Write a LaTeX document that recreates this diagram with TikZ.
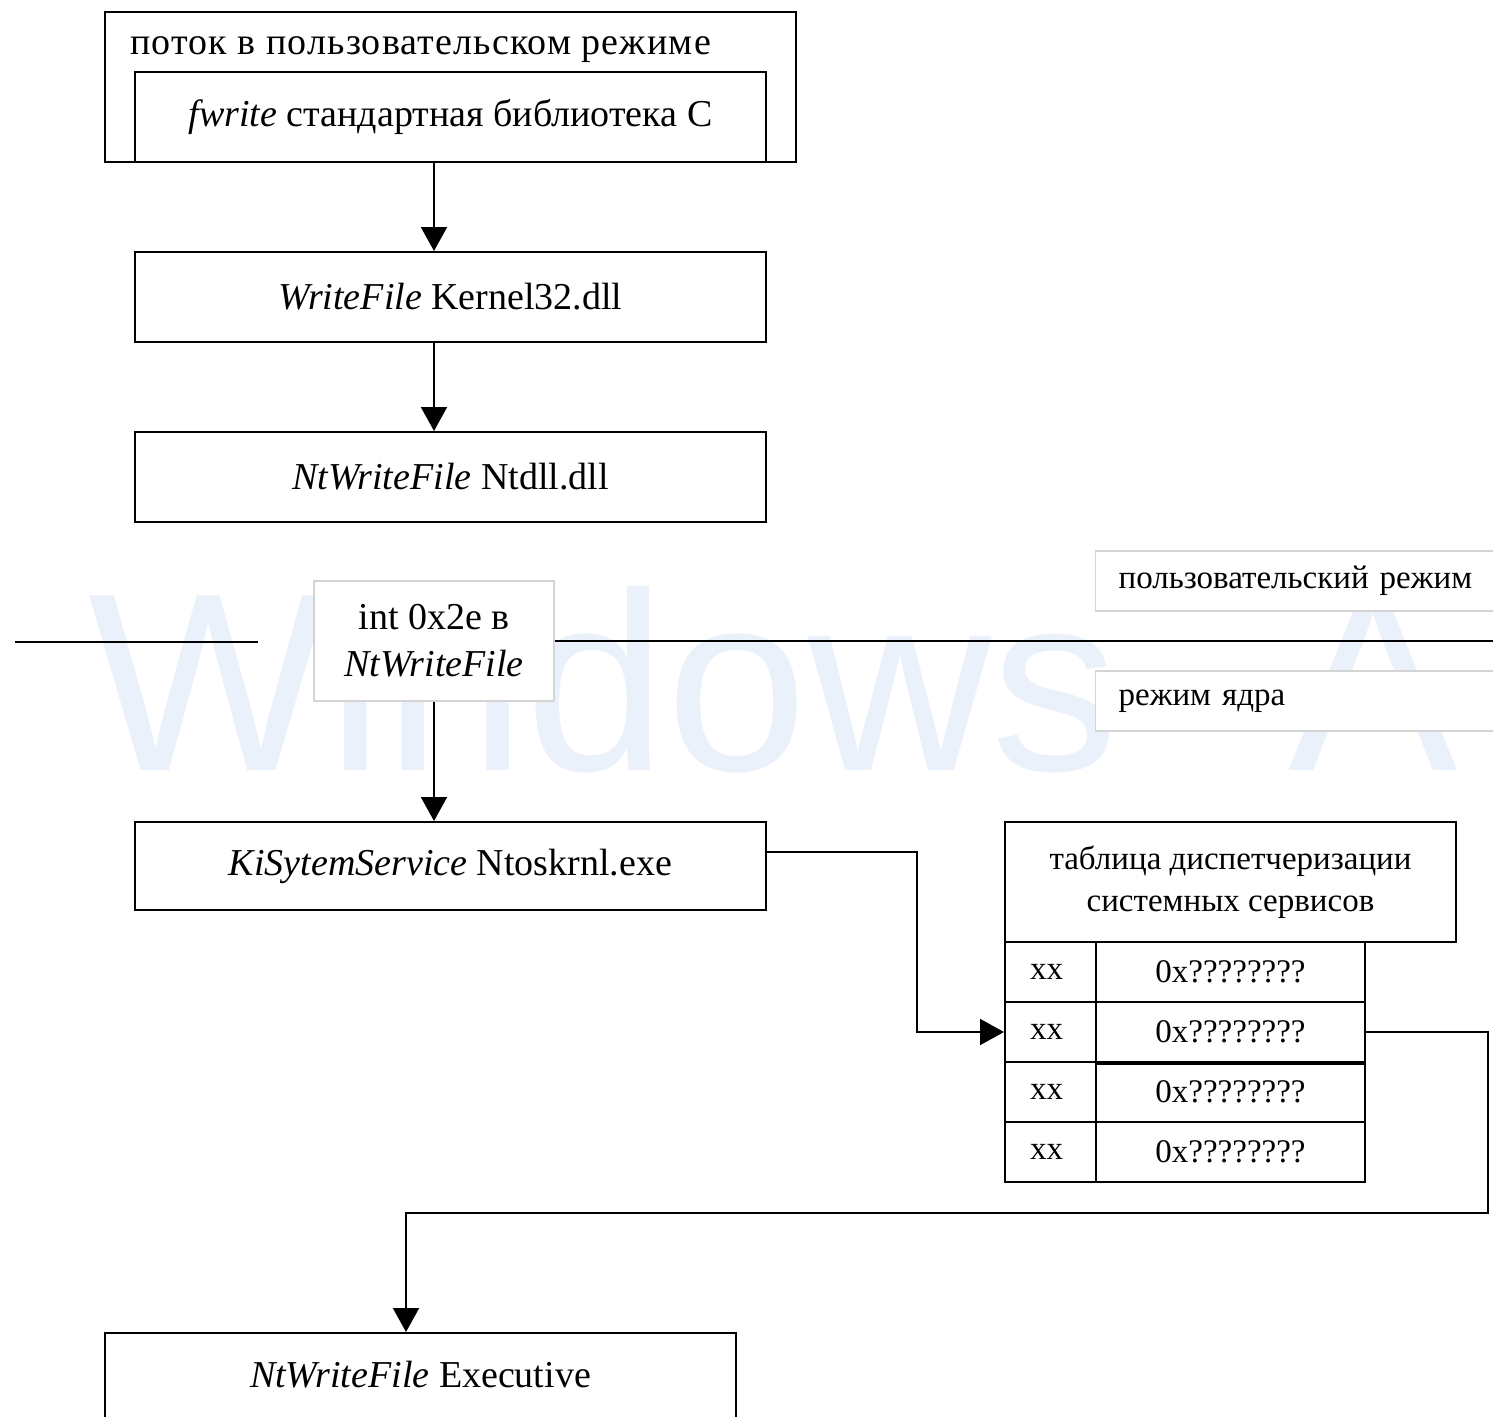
\documentclass[tikz,border=0pt]{standalone}
\usepackage{fontspec}
\setmainfont{Liberation Serif}
\newfontfamily\wmfont{Liberation Sans}
\usetikzlibrary{arrows.meta}
\definecolor{wmcol}{RGB}{234,241,251}
\definecolor{lboxcol}{RGB}{212,212,212}
\newcommand\fbig{\fontsize{38}{47}\selectfont}
\newcommand\fsmall{\fontsize{33}{42}\selectfont}
\tikzset{
  box/.style={draw, line width=2pt, fill=white, minimum width=631pt, minimum height=90pt, inner sep=0pt, font=\fbig},
  lbox/.style={draw=lboxcol, line width=1.2pt, fill=white, inner sep=0pt, font=\fbig},
  lblbox/.style={draw=lboxcol, line width=1.2pt, fill=white, minimum height=60pt, text width=360pt, inner xsep=23pt, inner ysep=0pt, align=left, font=\fsmall},
  cell/.style={draw, line width=2pt, fill=white, inner sep=0pt, font=\fsmall},
  conn/.style={line width=2pt},
  sep/.style={line width=2.5pt},
  arr/.style={line width=2pt, -{Triangle[width=26pt,length=24pt]}},
  wmark/.style={anchor=base west, inner sep=0pt, text=wmcol, font=\wmfont\fontsize{254}{254}\selectfont}
}
\begin{document}
\begin{tikzpicture}[x=1pt,y=-1pt]
\fill[white] (0,0) rectangle (1493,1416);
\useasboundingbox (0,0) rectangle (1493,1416);
% watermark
\node[wmark] (wm) at (88,770) {Windows\hspace{170pt}A};
% user mode thread
\node[box, minimum width=691pt, minimum height=150pt] (thread) at (450.5,87) {};
\node[anchor=west, font=\fbig, inner sep=0pt] (threadlbl) at (130,50) {\addfontfeature{LetterSpace=3}поток в пользовательском режиме};
\node[box] (fwrite) at (450.5,117) {\raisebox{5pt}{\textit{fwrite} стандартная библиотека C}};
\node[box] (wf) at (450.5,297) {\textit{WriteFile} Kernel32.dll};
\node[box] (nwf) at (450.5,477) {\textit{NtWriteFile} Ntdll.dll};
% mode boundary
\node[lbox, minimum width=240pt, minimum height=120pt, align=center] (int) at (434,641) {int 0x2e в\\\textit{NtWriteFile}};
\coordinate (l1) at (15,642);
\coordinate (l2) at (258,642);
\coordinate (l3) at (1493,642);
\draw[sep] (l1) -- (l2);
\draw[sep] (int.east) -- (int.east -| l3);
\node[lblbox, anchor=west] (umode) at (1095,581) {пользовательский режим};
\node[lblbox, anchor=west] (kmode) at (1095,701) {режим ядра};
% kernel
\node[box, minimum height=88pt] (ki) at (450.5,866) {\raisebox{3pt}{\textit{KiSytemService} Ntoskrnl.exe}};
\node[box, minimum height=86pt] (exec) at (420.5,1376) {\raisebox{4pt}{\textit{NtWriteFile} Executive}};
% table
\node[cell, minimum width=451pt, minimum height=120pt, align=center] (th) at (1230.5,882) {таблица диспетчеризации\\системных сервисов};
\foreach \i/\y in {1/972,2/1032,3/1092,4/1152}{
  \node[cell, minimum width=91pt, minimum height=60pt, text width=41pt, inner xsep=25pt, align=left] (r\i a) at (1050.5,\y) {xx};
  \node[cell, minimum width=269pt, minimum height=60pt] (r\i b) at (1230.5,\y) {0x????????};
}
\draw[line width=4pt] (r2b.south west) -- (r2b.south east);
% arrows
\draw[arr] (fwrite.south -| int.south) -- (wf.north -| int.south);
\draw[arr] (wf.south -| int.south) -- (nwf.north -| int.south);
\draw[arr] (int.south) -- (ki.north -| int.south);
\draw[arr] ([yshift=14pt]ki.east) -- ++(150,0) |- (r2a.west);
\draw[arr] (r2b.east) -- ++(122,0) -- ++(0,181) -| ([xshift=-14.5pt]exec.north);
\end{tikzpicture}
\end{document}
